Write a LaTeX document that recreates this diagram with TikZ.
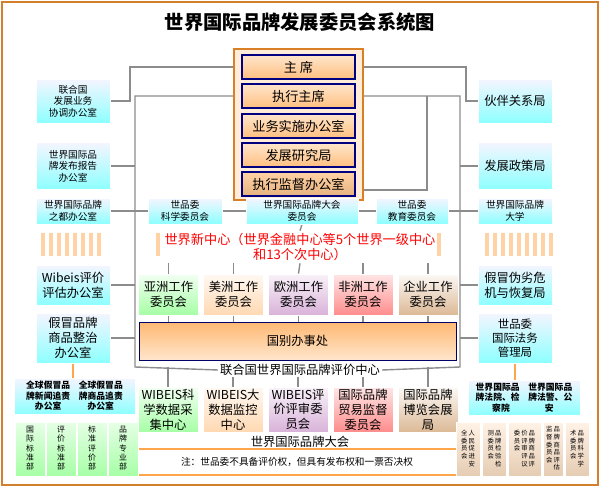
\documentclass[tikz,border=0pt]{standalone}
\usepackage{fontspec}
\setmainfont{Noto Sans CJK SC}
\usetikzlibrary{positioning,calc,backgrounds}
\newcommand{\vs}[1]{\begin{tabular}[t]{@{}c@{}}#1\end{tabular}}
\tikzset{
	% frame lines
	link/.style={draw=black!45, line width=0.8pt},
	olink/.style={draw=orange!70, line width=1pt},
	% boxes
	bluebox/.style={rectangle, draw=white, align=center, inner sep=1pt,
		top color=blue!4, bottom color=cyan!45, font=\fontsize{5.5}{6.5}\selectfont},
	bigblue/.style={bluebox, font=\fontsize{7}{8.5}\selectfont},
	chair/.style={rectangle, draw=blue!50!black, line width=0.8pt, align=center,
		top color=orange!20, bottom color=orange!50, minimum width=2.26cm,
		minimum height=0.48cm, font=\fontsize{7.5}{8}\selectfont},
	work/.style={rectangle, draw=white, align=center, minimum width=1.2cm,
		minimum height=0.82cm, font=\fontsize{7}{8.5}\selectfont, inner sep=1pt},
	wgreen/.style={work, top color=green!5, bottom color=green!35},
	wpeach/.style={work, top color=orange!5, bottom color=orange!30},
	wpurple/.style={work, top color=violet!5, bottom color=violet!30},
	wred/.style={work, top color=red!10, bottom color=red!45},
	wtan/.style={work, top color=brown!5, bottom color=brown!55},
	col/.style={rectangle, draw=white, align=center, anchor=north, inner sep=1pt,
		font=\fontsize{4.5}{5.2}\selectfont, minimum height=1.08cm},
	tcol/.style={col, top color=orange!10, bottom color=brown!40,
		font=\fontsize{3.6}{4.3}\selectfont, inner xsep=0pt},
	stripe/.style={draw=orange!35, line width=2pt}
}
\begin{document}
\begin{tikzpicture}[x=0.02cm, y=-0.02cm]
	\useasboundingbox (0,0) rectangle (600,487);
	\draw[draw=brown!70!orange, line width=1.5pt] (2,2) rectangle (598,485);
	\node[font=\fontsize{11}{12}\selectfont\bfseries] (title) at (300,22) {世界国际品牌发展委员会系统图};
	% center column
	\node[rectangle, draw=brown!60!orange, line width=1pt, fill=orange!15,
		minimum width=2.58cm, minimum height=3.02cm] (top) at (298.5,124.5) {};
	\node[chair] (c1) at (298.5,67) {主\ 席};
	\node[chair] (c2) at (298.5,96) {执行主席};
	\node[chair] (c3) at (298.5,126) {业务实施办公室};
	\node[chair] (c4) at (298.5,155) {发展研究局};
	\node[chair, top color=orange!35, bottom color=orange!35!brown!60] (c5) at (298.5,184) {执行监督办公室};
	% left side
	\node[bluebox, minimum width=1.48cm, minimum height=0.88cm] (l1) at (73,101) {联合国\\发展业务\\协调办公室};
	\node[bluebox, minimum width=1.48cm, minimum height=0.94cm] (l2) at (73,166) {世界国际品\\牌发布报告\\办公室};
	\node[bluebox, minimum width=1.48cm, minimum height=0.52cm] (l3) at (73,211) {世界国际品牌\\之都办公室};
	\node[bigblue, minimum width=1.48cm, minimum height=0.8cm] (l4) at (73,285) {Wibeis评价\\评估办公室};
	\node[bigblue, minimum width=1.48cm, minimum height=1cm] (l5) at (73,338) {假冒品牌\\商品整治\\办公室};
	% right side
	\node[bigblue, minimum width=1.48cm, minimum height=0.88cm] (r1) at (515,101) {伙伴关系局};
	\node[bigblue, minimum width=1.48cm, minimum height=0.94cm] (r2) at (515,166) {发展政策局};
	\node[bluebox, minimum width=1.48cm, minimum height=0.52cm] (r3) at (515,211) {世界国际品牌\\大学};
	\node[bigblue, minimum width=1.48cm, minimum height=0.8cm] (r4) at (515,285) {假冒伪劣危\\机与恢复局};
	\node[bluebox, font=\fontsize{6.5}{8}\selectfont, minimum width=1.48cm, minimum height=1cm] (r5) at (515,338) {世品委\\国际法务\\管理局};
	% middle row
	\node[bluebox, minimum width=1.48cm, minimum height=0.52cm] (m1) at (185,211) {世品委\\科学委员会};
	\node[bluebox, minimum width=2.24cm, minimum height=0.52cm] (m2) at (302,211) {世界国际品牌大会\\委员会};
	\node[bluebox, minimum width=1.44cm, minimum height=0.52cm] (m3) at (412,211) {世品委\\教育委员会};
	% stripes
	\foreach \x in {43,51,...,99,158,166,...,222,383,391,...,439,487,495,...,551}
		\draw[stripe] (\x,233) -- (\x,256);
	\node[text=red, align=center, font=\fontsize{7.5}{9}\selectfont, fill=white, inner sep=1pt] (ctr) at (300,247) {世界新中心（世界金融中心等5个世界一级中心\\和13个次中心）};
	% work committees
	\node[wgreen] (w1) at (168.5,294.5) {亚洲工作\\委员会};
	\node[wpeach] (w2) at (233.5,294.5) {美洲工作\\委员会};
	\node[wpurple] (w3) at (298.5,294.5) {欧洲工作\\委员会};
	\node[wred] (w4) at (363,294.5) {非洲工作\\委员会};
	\node[wtan] (w5) at (428,294.5) {企业工作\\委员会};
	\node[rectangle, draw=blue!40!black, top color=orange!55, bottom color=orange!20,
		minimum width=6.34cm, minimum height=0.76cm, font=\fontsize{7}{8}\selectfont] (office) at (297.5,341) {国别办事处};
	\node[font=\fontsize{7}{8}\selectfont, fill=white, inner sep=1pt] (ctr2) at (300,370) {联合国世界国际品牌评价中心};
	% bottom row
	\node[wgreen, minimum height=0.9cm] (b1) at (168,409.5) {WIBEIS科\\学数据采\\集中心};
	\node[wpeach, minimum height=0.9cm] (b2) at (233,409.5) {WIBEIS大\\数据监控\\中心};
	\node[wpurple, minimum height=0.9cm] (b3) at (298,409.5) {WIBEIS评\\价评审委\\员会};
	\node[wred, minimum height=0.9cm] (b4) at (363,409.5) {国际品牌\\贸易监督\\委员会};
	\node[wtan, minimum height=0.9cm] (b5) at (428,409.5) {国际品牌\\博览会展\\局};
	\node[font=\fontsize{7}{8}\selectfont] (congress) at (300,442) {世界国际品牌大会};
	\node[font=\fontsize{5.5}{6}\selectfont] (note) at (297,462) {注：世品委不具备评价权，但具有发布权和一票否决权};
	% left bottom
	\node[bluebox, font=\fontsize{5}{6}\selectfont\bfseries, minimum width=2.42cm, minimum height=0.72cm] (lb) at (74.5,396) {全球假冒品\quad 全球假冒品\\牌新闻追责\quad 牌商品追责\\办公室\qquad\quad 办公室};
	\foreach \x/\t [count=\i] in {30/国\\际\\标\\准\\部, 61/评\\价\\标\\准\\部, 92/标\\准\\评\\价\\部, 123/品\\牌\\专\\业\\部}
		\node[col, top color=green!10, bottom color=green!35, minimum width=0.6cm] (g\i) at (\x,422) {\vs{\t}};
	% right bottom
	\node[bluebox, font=\fontsize{5}{6}\selectfont\bfseries, minimum width=2.24cm, minimum height=0.7cm] (rb) at (524,397.5) {世界国际品\quad 世界国际品\\牌法院、检\quad 牌法警、公\\察院\qquad\qquad 安\ \ };
	\node[tcol, minimum width=0.48cm] (t1) at (468,422) {\vs{全\\委\\员\\会}\,\vs{人\\民\\促\\进\\安}};
	\node[tcol, minimum width=0.48cm] (t2) at (494.5,422) {\vs{测\\委\\员\\会}\,\vs{品\\牌\\检\\验\\检}};
	\node[tcol, minimum width=0.66cm] (t3) at (524.5,422) {\vs{委\\员\\会}\,\vs{价\\评\\审\\评\\议}\,\vs{品\\牌\\商\\品\\评}};
	\node[tcol, minimum width=0.4cm] (t4) at (553,422) {\vs{监\\督\\委\\员\\会}\,\vs{品\\牌\\商\\品\\评\\估}};
	\node[tcol, minimum width=0.48cm] (t5) at (577,422) {\vs{术\\委\\员\\会}\,\vs{品\\牌\\科\\学\\学}};
	\begin{scope}[on background layer]
	% gray links
	\draw[link] (c1.west) -| (130,101) -- (l1.east);
	\draw[link] (c1.east) -| (466,101) -- (r1.west);
	\draw[link] (c2.west) -| (135,367) -- (ctr2.west);
	\draw[link] (ctr2.east) -- (460,367) |- (c2.east);
	\draw[link] (427,96) -- (427,190) -| (m2.north);
	\foreach \n in {l2,l3,l4,l5} \draw[link] (\n.east) -- (\n.east -| 135,0);
	\foreach \n in {r2,r3,r4,r5} \draw[link] (\n.west) -- (\n.west -| 460,0);
	\draw[link] (l3.east) -- (m1.west);
	\draw[link] (m1.east) -- (m2.west);
	\draw[link] (m2.east) -- (m3.west);
	\draw[link] (m3.east) -- (r3.west);
	\draw[link] (m2.south) -- (ctr.north);
	\draw[link] (ctr.south) -- (w3.north);
	\draw[link] (w1.north) |- (298.5,244) -| (w5.north);
	\foreach \n in {w2,w4} \draw[link] (\n.north) -- (\n.north |- 0,244);
	\foreach \n in {w1,w2,w3,w4,w5} \draw[link] (\n.south) -- (\n.south |- office.north);
	\foreach \n in {b1,b2,b3,b4,b5} \draw[link] (\n.north) -- (\n.north |- 0,367);
	% orange links
	\draw[olink] (l5.south) -- (lb.north -| l5.south);
	\draw[olink] (r5.south) -- (rb.north -| r5.south);
	\draw[olink] (g4.north east) ++(0,27) coordinate (oa) -- (t1.north west |- oa);
	\draw[olink] (138,475) coordinate (ob) -- (t1.north west |- ob);
	\end{scope}
\end{tikzpicture}
\end{document}
